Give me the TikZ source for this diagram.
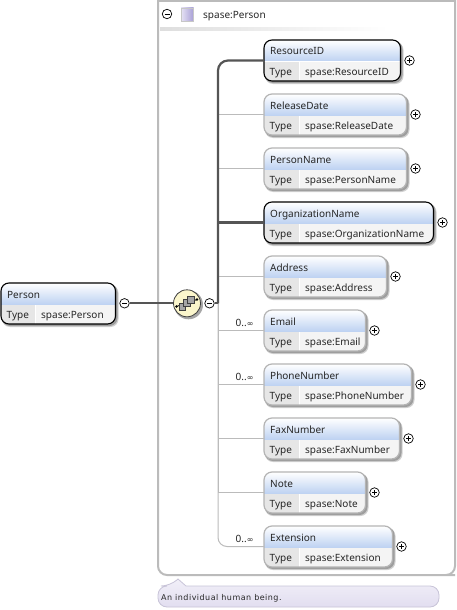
\documentclass[tikz,border=0pt]{standalone}
\usepackage{fontspec}
\setmainfont{Noto Sans}
\newfontfamily\notefont[LetterSpace=6]{DejaVu Sans}
\newfontfamily\symfont{DejaVu Sans}
\usetikzlibrary{shadings}
\definecolor{hdr}{HTML}{BFD3F2}
\definecolor{cella}{HTML}{E6E6E6}
\definecolor{cellb}{HTML}{F4F4F4}
\definecolor{lightb}{HTML}{B4B4B4}
\definecolor{darkl}{HTML}{555555}
\definecolor{lightl}{HTML}{BBBBBB}
\definecolor{framec}{HTML}{BBBBBB}
\definecolor{seqfill}{HTML}{FBF6CC}
\definecolor{notetop}{HTML}{F1EFF8}
\definecolor{notebot}{HTML}{E2DEF0}
\definecolor{noteedge}{HTML}{C8C4D8}
\definecolor{sqlight}{HTML}{E6E2F4}
\definecolor{sqdark}{HTML}{A89FD6}
\tikzset{
 x=1pt,y=-1pt,
 txt/.style={font=\fontsize{10}{12}\selectfont,inner sep=0pt,text=black!85,anchor=base west},
 boxreq/.style={draw=black,line width=1.1pt},
 boxopt/.style={draw=lightb,line width=1.2pt},
 toggle/.style={circle,draw=black,line width=.7pt,fill=white,minimum size=9.5pt,inner sep=0pt},
 plustog/.style={toggle,path picture={\draw[line width=.7pt] ([xshift=-2.5pt]path picture bounding box.center)--([xshift=2.5pt]path picture bounding box.center);\draw[line width=.7pt] ([yshift=-2.5pt]path picture bounding box.center)--([yshift=2.5pt]path picture bounding box.center);}},
 minustog/.style={toggle,path picture={\draw[line width=.7pt] ([xshift=-2.5pt]path picture bounding box.center)--([xshift=2.5pt]path picture bounding box.center);}},
 darkcon/.style={draw=darkl,line width=2.2pt},
 lightcon/.style={draw=lightl,line width=1pt},
}
% name, left, top, width, title, type, cell offset, style
\newcommand{\elembox}[8]{%
 \fill[black!18,rounded corners=8] (#2+1,#3+2) rectangle ++(#4+2,41+1);
 \fill[black!38,rounded corners=8] (#2+1,#3+1) rectangle ++(#4+1,41+1);
 \begin{scope}
  \clip[rounded corners=8] (#2,#3) rectangle ++(#4,41);
  \fill[white] (#2,#3) rectangle ++(#4,41);
  \shade[top color=white,bottom color=hdr] (#2,#3) rectangle ++(#4,21);
  \fill[cella] (#2,#3+22) rectangle ++(#7-1,19);
  \fill[cellb] (#2+#7,#3+22) rectangle ++(#4-#7,19);
 \end{scope}
 \node[#8,rounded corners=8,minimum width=#4 pt,minimum height=41pt,inner sep=0pt,outer sep=0pt,anchor=north west] (#1) at (#2,#3) {};
 \node[txt] at (#2+6,#3+15) {#5};
 \node[txt] at (#2+5.5,#3+35) {Type};
 \node[txt] at (#2+#7+5,#3+35) {#6};
}
\newcommand{\childbox}[6]{% name, top, width, title, type, style
 \elembox{#1}{264}{#2}{#3}{#4}{#5}{36}{#6}
 \node[plustog] (#1tog) at (264+#3+9,#2+20.5) {};
}
\newcommand{\unbounded}{0..{\symfont\fontsize{8}{10}\selectfont ∞}}
\begin{document}
\begin{tikzpicture}
\useasboundingbox (0,0) rectangle (457,610);
\fill[white] (0,0) rectangle (457,610);
% group frame
\draw[framec,line width=2pt] (455,575) [rounded corners=9] -- (158,575) [sharp corners] -- (158,1) -- (455,1) [rounded corners=9] -- (455,575) -- (300,575);
\shade[left color=black!13,right color=white] (160,28) rectangle (388,30.5);
\node[minustog] (typetog) at (167,14) {};
\shade[left color=sqlight,right color=sqdark,draw=black!22,line width=.6pt] (181,8) rectangle (193.5,21);
\node[txt] (typelabel) at (203,18.3) {spase:Person};
% nodes
\elembox{person}{1}{283}{114.5}{Person}{spase:Person}{35}{boxreq}
\node[minustog] (ptog) at (124.5,303.3) {};
\fill[black!35] (188.5,304.8) circle (14.5pt);
\node[circle,draw=black!75,line width=.8pt,fill=seqfill,minimum size=27pt,inner sep=0pt] (seq) at (187,303.3) {};
\node[minustog] (stog) at (209.5,303.3) {};
\childbox{res}{40}{136.5}{ResourceID}{spase:ResourceID}{boxreq}
\childbox{rel}{94}{142.5}{ReleaseDate}{spase:ReleaseDate}{boxopt}
\childbox{per}{148}{142.5}{PersonName}{spase:PersonName}{boxopt}
\childbox{org}{202}{169.5}{OrganizationName}{spase:OrganizationName}{boxreq}
\childbox{adr}{256}{122.5}{Address}{spase:Address}{boxopt}
\childbox{ema}{310}{101.5}{Email}{spase:Email}{boxopt}
\childbox{pho}{364}{147.5}{PhoneNumber}{spase:PhoneNumber}{boxopt}
\childbox{fax}{418}{135.5}{FaxNumber}{spase:FaxNumber}{boxopt}
\childbox{not}{472}{101.5}{Note}{spase:Note}{boxopt}
\childbox{ext}{526}{128.5}{Extension}{spase:Extension}{boxopt}
% sequence icon
\draw[black,line width=.8pt] (176.5,306.5) -- (197,299.5);
\foreach \cx/\cy in {182/306.5,186.5/302.5,190.5/299.5}
 \draw[black!75,fill=black!35,line width=.6pt] (\cx-3,\cy-3) rectangle ++(6.5,6.5);
\fill (176.5,306.5) circle (1.3pt);
\fill (197,299.5) circle (1.3pt);
% connectors
\coordinate (spine) at (218,303.3);
\path[lightcon] (spine) |- (rel.west);
\path[lightcon] (spine) |- (per.west);
\path[lightcon] (spine) |- (adr.west);
\path[lightcon] (spine) |- (ema.west);
\path[lightcon] (spine) |- (pho.west);
\path[lightcon] (spine) |- (fax.west);
\path[lightcon] (spine) |- (not.west);
\path[lightcon,rounded corners=9] (spine) |- (ext.west);
\path[darkcon] (spine) |- (org.west);
\path[darkcon,rounded corners=10] (spine) |- (res.west);
\path[darkcon] (stog.east) -- (spine);
\path[darkcon] (ptog.east) -- (seq.west);
% multiplicities
\node[txt] (m1) at (235.5,326.5) {\unbounded};
\node[txt] (m2) at (235.5,380.5) {\unbounded};
\node[txt] (m3) at (235.5,542.5) {\unbounded};
% annotation
\shade[top color=notetop,bottom color=notebot,draw=noteedge,line width=.8pt]
 (186,586) [rounded corners=9] -- (439,586) -- (439,607) -- (158,607) -- (158,586) -- (170,586) [sharp corners] -- (178,579) -- cycle;
\node[anchor=base west,inner sep=0pt,font=\notefont\fontsize{8}{10}\selectfont,text=black!85] (note) at (161,600) {An individual human being.};
\end{tikzpicture}
\end{document}
